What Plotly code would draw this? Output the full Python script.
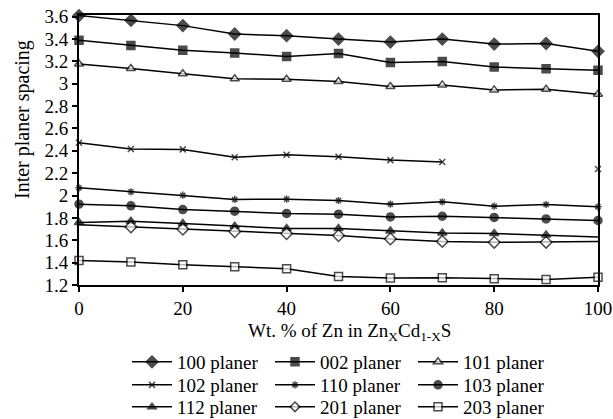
import plotly.graph_objects as go

x = [0, 10, 20, 30, 40, 50, 60, 70, 80, 90, 100]

p100 = [3.61, 3.567, 3.52, 3.445, 3.43, 3.40, 3.373, 3.40, 3.355, 3.36, 3.29]
p002 = [3.39, 3.343, 3.30, 3.274, 3.244, 3.27, 3.19, 3.20, 3.15, 3.134, 3.12]
p101 = [3.176, 3.137, 3.09, 3.044, 3.04, 3.02, 2.975, 2.99, 2.945, 2.95, 2.907]
p102 = [2.473, 2.416, 2.413, 2.342, 2.365, 2.347, 2.317, 2.30, None, None, 2.237]
p110 = [2.069, 2.033, 2.003, 1.965, 1.968, 1.956, 1.923, 1.944, 1.905, 1.92, 1.899]
p103 = [1.923, 1.908, 1.875, 1.86, 1.84, 1.833, 1.809, 1.815, 1.804, 1.791, 1.777]
p112 = [1.759, 1.77, 1.75, 1.726, 1.705, 1.705, 1.684, 1.666, 1.66, 1.648, 1.63]
p201 = [1.74, 1.72, 1.70, 1.678, 1.66, 1.642, 1.612, 1.59, 1.582, 1.582, 1.588]
p203 = [1.42, 1.405, 1.382, 1.364, 1.346, 1.277, 1.262, 1.265, 1.256, 1.25, 1.27]

names = ["100 planer", "002 planer", "101 planer",
         "102 planer", "110 planer", "103 planer",
         "112 planer", "201 planer", "203 planer"]
series = [p100, p002, p101, p102, p110, p103, p112, p201, p203]
symbols = ["diamond", "square", "triangle-up",
           "x-thin", "asterisk", "circle",
           "triangle-up", "diamond", "square"]
fills = ["black", "black", "white",
         "black", "black", "black",
         "black", "white", "white"]
sizes = [9, 8, 8, 6, 6, 8, 8, 9, 8]
legend_rows = ["legend", "legend", "legend",
               "legend2", "legend2", "legend2",
               "legend3", "legend3", "legend3"]

y_ticks = [1.2, 1.4, 1.6, 1.8, 2.0, 2.2, 2.4, 2.6, 2.8, 3.0, 3.2, 3.4, 3.6]
y_ticktext = ["1.2", "1.4", "1.6", "1.8", "2", "2.2", "2.4", "2.6", "2.8", "3", "3.2", "3.4", "3.6"]
x_ticks = [0, 20, 40, 60, 80, 100]

FONT = "Liberation Serif, Times New Roman, serif"

fig = go.Figure()
for name, ys, sym, fc, sz, lg in zip(names, series, symbols, fills, sizes, legend_rows):
    msizes = [sz] * len(ys)
    if name in ("112 planer", "201 planer"):
        msizes[-1] = 0
    if name == "201 planer":
        msizes[0] = 0
    fig.add_trace(go.Scatter(
        x=x, y=ys, name=name, mode="lines+markers", legend=lg,
        connectgaps=False, cliponaxis=False,
        line=dict(color="black", width=1.5),
        marker=dict(symbol=sym, size=msizes, color=fc,
                    line=dict(color="black", width=1.5)),
    ))

def row_legend(yc):
    return dict(orientation="h", x=(127 - 79) / 519, xanchor="left",
                yref="container", y=yc, yanchor="middle",
                entrywidth=88, entrywidthmode="pixels", traceorder="normal",
                font=dict(family=FONT, size=19), tracegroupgap=0,
                itemwidth=40, bgcolor="rgba(0,0,0,0)")

fig.update_layout(
    width=613, height=419,
    margin=dict(l=79, r=15, t=15, b=134, autoexpand=False),
    paper_bgcolor="white", plot_bgcolor="white",
    font=dict(family=FONT, size=19, color="black"),
    showlegend=True,
    legend=row_legend(1 - 362 / 419),
    legend2=row_legend(1 - 385 / 419),
    legend3=row_legend(1 - 407 / 419),
    xaxis=dict(range=[0, 100], tickvals=x_ticks, ticks="outside", ticklen=5,
               tickwidth=1.5, tickcolor="black", showgrid=False, zeroline=False,
               showline=True, linecolor="black", linewidth=2, mirror=True,
               automargin=False, tickfont=dict(family=FONT, size=19)),
    yaxis=dict(range=[1.2, 3.615], tickvals=y_ticks, ticktext=y_ticktext,
               ticks="outside", ticklen=5, tickwidth=1.5, tickcolor="black",
               showgrid=False, zeroline=False, automargin=False,
               showline=True, linecolor="black", linewidth=2, mirror=True,
               tickfont=dict(family=FONT, size=19)),
    annotations=[
        dict(text="Wt. % of Zn in Zn<sub>X</sub>Cd<sub>1-X</sub>S",
             xref="paper", yref="paper", x=(349 - 79) / 519, y=(285 - 332) / 270,
             xanchor="center", yanchor="middle", showarrow=False,
             font=dict(family=FONT, size=19)),
        dict(text="Inter planer spacing", textangle=-90,
             xref="paper", yref="paper", x=(23 - 79) / 519, y=(285 - 120) / 270,
             xanchor="center", yanchor="middle", showarrow=False,
             font=dict(family=FONT, size=20)),
    ],
)

fig.write_html("out.html", config={"displayModeBar": False},
               post_script="document.body.style.margin='0px';")
